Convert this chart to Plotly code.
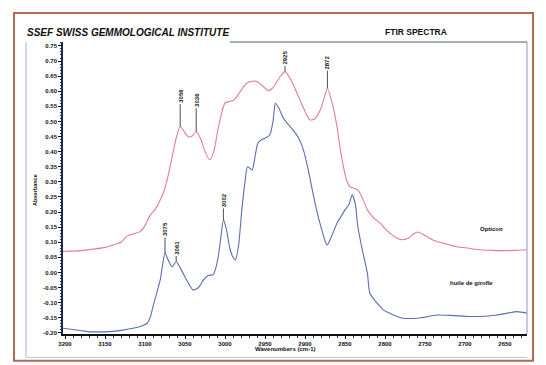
import plotly.graph_objects as go

# ---- data ----
opticon_wn = [3202.5, 3180, 3165, 3150, 3140, 3130, 3122, 3114, 3106, 3100, 3094, 3087, 3081, 3076, 3072,
              3065, 3061, 3056, 3050, 3046, 3041, 3036, 3030, 3025, 3019, 3014, 3009, 3004, 3000,
              2995, 2990, 2985, 2981, 2976, 2972, 2966, 2960, 2953, 2946, 2940, 2935, 2930, 2925,
              2918, 2910, 2902, 2894, 2888, 2881, 2876, 2872, 2866, 2860, 2856, 2852, 2848, 2844,
              2838, 2834, 2828, 2822, 2814, 2806, 2800, 2794, 2786, 2779, 2770, 2764, 2759, 2750,
              2742, 2735, 2722, 2710, 2695, 2681, 2666, 2652, 2638, 2622.5]
opticon_abs = [0.069, 0.072, 0.077, 0.083, 0.091, 0.100, 0.121, 0.128, 0.135, 0.155, 0.188, 0.210, 0.240,
               0.272, 0.310, 0.396, 0.445, 0.483, 0.462, 0.449, 0.452, 0.466, 0.440, 0.400, 0.373, 0.400,
               0.470, 0.530, 0.561, 0.566, 0.569, 0.582, 0.599, 0.618, 0.628, 0.633, 0.632, 0.618, 0.602,
               0.612, 0.632, 0.652, 0.665, 0.640, 0.593, 0.545, 0.505, 0.508, 0.538, 0.578, 0.610, 0.560,
               0.483, 0.410, 0.350, 0.305, 0.284, 0.278, 0.273, 0.245, 0.207, 0.180, 0.163, 0.145, 0.130,
               0.115, 0.108, 0.115, 0.128, 0.134, 0.122, 0.110, 0.102, 0.093, 0.085, 0.080, 0.075, 0.073,
               0.072, 0.073, 0.075]

girofle_wn = [3202.5, 3188, 3172, 3158, 3144, 3130, 3115, 3105, 3097, 3093, 3090, 3085, 3081, 3078, 3075,
              3070, 3066, 3061, 3055, 3048, 3040, 3033, 3027, 3021, 3015, 3012, 3008, 3005, 3002, 2998,
              2994, 2990, 2987, 2983, 2979, 2975, 2972, 2969, 2966, 2962, 2959, 2954, 2950, 2944, 2940,
              2937, 2933, 2927, 2921, 2915, 2908, 2902, 2896, 2890, 2884, 2879, 2875, 2872, 2866, 2860,
              2855, 2850, 2845, 2841, 2837, 2834, 2828, 2822, 2819, 2812, 2806, 2802, 2790, 2777, 2755,
              2735, 2715, 2694, 2675, 2660, 2645, 2635, 2622.5]
girofle_abs = [-0.185, -0.190, -0.196, -0.197, -0.196, -0.192, -0.185, -0.178, -0.168, -0.145, -0.113,
               -0.065, -0.025, 0.025, 0.064, 0.035, 0.019, 0.036, 0.010, -0.025, -0.058, -0.050, -0.025,
               -0.010, -0.008, 0.010, 0.060, 0.120, 0.174, 0.140, 0.080, 0.050, 0.041, 0.090, 0.207, 0.300,
               0.350, 0.345, 0.339, 0.390, 0.428, 0.440, 0.444, 0.455, 0.500, 0.560, 0.545, 0.511, 0.490,
               0.472, 0.445, 0.406, 0.340, 0.262, 0.190, 0.141, 0.105, 0.091, 0.125, 0.163, 0.185, 0.207,
               0.225, 0.257, 0.225, 0.152, 0.070, -0.003, -0.069, -0.095, -0.113, -0.124, -0.140, -0.152,
               -0.150, -0.141, -0.143, -0.146, -0.145, -0.141, -0.134, -0.130, -0.135]

opticon_peaks = ["3056", "3036", "2925", "2872"]
opticon_peak_abs = [0.483, 0.466, 0.665, 0.610]
girofle_peaks = ["3075", "3061", "3002"]
girofle_peak_abs = [0.064, 0.036, 0.174]

y_ticks = [round(-0.20 + 0.05 * i, 2) for i in range(20)]
x_ticks = [3200, 3150, 3100, 3050, 3000, 2950, 2900, 2850, 2800, 2750, 2700, 2650]

# label stem offsets in pixels (style)
opticon_stem = [-31, -32, -14, -26]
girofle_stem = [-24, -14, -20]

RED = "#e07e94"
BLUE = "#5b6db3"
FONT = "Liberation Sans"

fig = go.Figure()
fig.add_trace(go.Scatter(x=opticon_wn, y=opticon_abs, mode="lines",
                         line=dict(color=RED, width=1.1, shape="spline", smoothing=0.6),
                         name="Opticon", hoverinfo="skip"))
fig.add_trace(go.Scatter(x=girofle_wn, y=girofle_abs, mode="lines",
                         line=dict(color=BLUE, width=1.1, shape="spline", smoothing=0.6),
                         name="huile de girofle", hoverinfo="skip"))

annots = []
peaks = list(zip(opticon_peaks, opticon_peak_abs, opticon_stem)) + \
        list(zip(girofle_peaks, girofle_peak_abs, girofle_stem))
for lab, val, stem in peaks:
    annots.append(dict(x=float(lab), y=val, xref="x", yref="y", text=lab, textangle=-90,
                       showarrow=True, arrowhead=0, arrowwidth=0.8, arrowcolor="#222",
                       ax=0, ay=stem, font=dict(family=FONT, size=6, color="#111", weight="bold")))

annots += [
    dict(x=-0.082, y=1.034, xref="paper", yref="paper", xanchor="left", yanchor="middle",
         text="<b><i>SSEF SWISS GEMMOLOGICAL INSTITUTE</i></b>", showarrow=False,
         font=dict(family=FONT, size=10, color="#111")),
    dict(x=0.69, y=1.034, xref="paper", yref="paper", xanchor="left", yanchor="middle",
         text="<b>FTIR SPECTRA</b>", showarrow=False, font=dict(family=FONT, size=8.5, color="#111")),
    dict(x=-0.071, y=0.493, xref="paper", yref="paper", text="<b>Absorbance</b>", textangle=-90,
         showarrow=False, font=dict(family=FONT, size=5.5, color="#111")),
    dict(x=0.478, y=-0.068, xref="paper", yref="paper", text="<b>Wavenumbers (cm-1)</b>",
         showarrow=False, font=dict(family=FONT, size=6, color="#111")),
    dict(x=0.953, y=0.36, xref="paper", yref="paper", text="<b>Opticon</b>",
         showarrow=False, font=dict(family=FONT, size=6, color="#111")),
    dict(x=0.931, y=0.158, xref="paper", yref="paper", text="<b>huile de girofle</b>",
         showarrow=False, font=dict(family=FONT, size=6, color="#111")),
]

shapes = [
    dict(type="line", xref="paper", yref="paper", x0=0.36, x1=1.0, y0=1.0, y1=1.0,
         line=dict(color="#555a66", width=1.2)),
    dict(type="line", xref="paper", yref="paper", x0=1.0, x1=1.0, y0=0.0, y1=1.0,
         line=dict(color="#8a96c8", width=1)),
    dict(type="rect", xref="paper", yref="paper", x0=-0.1056, x1=1.013, y0=-0.092, y1=1.099,
         line=dict(color="#b06a55", width=2)),
    dict(type="line", xref="paper", yref="paper", x0=-0.0797, x1=-0.0797, y0=-0.08, y1=1.0,
         line=dict(color="#9fb4e0", width=1)),
    dict(type="line", xref="paper", yref="paper", x0=-0.0797, x1=1.0, y0=-0.08, y1=-0.08,
         line=dict(color="#b8c6e6", width=1)),
]

fig.update_layout(
    width=546, height=365,
    margin=dict(l=63, r=19, t=42, b=31),
    paper_bgcolor="white", plot_bgcolor="white",
    showlegend=False,
    annotations=annots, shapes=shapes,
    xaxis=dict(range=[3202.5, 2622.5], tickvals=x_ticks, ticktext=[str(v) for v in x_ticks],
               showgrid=False, zeroline=False, showline=True, linecolor="#111", linewidth=2,
               ticks="outside", ticklen=3, tickcolor="#111",
               minor=dict(dtick=10, ticks="outside", ticklen=2, tickcolor="#333"),
               tickfont=dict(family=FONT, size=6, color="#111", weight="bold")),
    yaxis=dict(range=[-0.204, 0.763], tickvals=y_ticks, ticktext=[f"{v:.2f}" for v in y_ticks],
               showgrid=False, zeroline=False, showline=True, linecolor="#1a2a55", linewidth=1.5,
               ticks="outside", ticklen=3, tickcolor="#111",
               minor=dict(dtick=0.01, ticks="outside", ticklen=1.5, tickcolor="#333"),
               tickfont=dict(family=FONT, size=6, color="#111", weight="bold")),
)

fig.write_html("out.html")
